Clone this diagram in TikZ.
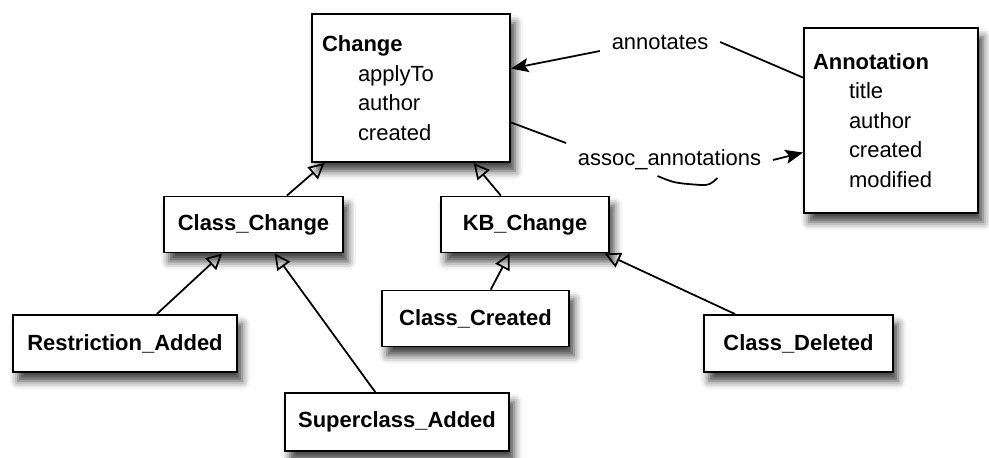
\documentclass[tikz,border=0pt]{standalone}
\usepackage{fontspec}
\setmainfont{Liberation Sans}
\usetikzlibrary{arrows.meta,shadows.blur}
\newcommand{\umlattr}[1]{\hspace*{0.72cm}#1}
\tikzset{
  umlnode/.style = {draw=black, fill=white, line width=1.1pt, inner sep=0pt,
    font=\fontsize{12.5}{16.8}\selectfont,
    blur shadow={shadow xshift=0.1cm, shadow yshift=-0.18cm,
      shadow blur radius=0.16cm, shadow opacity=75}},
  uml_c/.style = {umlnode, font=\fontsize{12.5}{16.8}\selectfont\bfseries,
    minimum height=1.12cm, align=center},% classe simple
  uml_a/.style = {umlnode, align=left, inner xsep=0.2cm},% classe avec attributs
  assoc_l/.style = {font=\fontsize{12.5}{16.8}\selectfont,
    inner xsep=0.22cm, inner ysep=0pt},% etiquette d'association
  isa/.style = {-{Triangle[open, length=9pt, width=9pt]}}% heritage
}
\begin{document}
\begin{tikzpicture}[>={Stealth[length=10pt, width=8pt, inset=2pt]}, line width=1pt]
\useasboundingbox (0,0) rectangle (19.78,-9.14);
\node[uml_a, minimum width=3.96cm, minimum height=2.96cm, text width=3.56cm]
  (change) at (8.22,-1.76)
  {\textbf{Change}\\ \umlattr{applyTo}\\ \umlattr{author}\\ \umlattr{created}};
\node[uml_a, inner xsep=0.18cm, minimum width=3.48cm, minimum height=3.70cm,
  text width=3.12cm] (annot) at (17.82,-2.41)
  {\textbf{Annotation}\\ \umlattr{title}\\ \umlattr{author}\\ \umlattr{created}\\ \umlattr{modified}};
\node[uml_c, minimum width=3.58cm] (classch) at (5.07,-4.49) {Class\_Change};
\node[uml_c, minimum width=3.36cm] (kbch) at (10.50,-4.49) {KB\_Change};
\node[uml_c, minimum width=3.74cm] (created) at (9.51,-6.37) {Class\_Created};
\node[uml_c, minimum width=4.48cm, minimum height=1.14cm] (restr) at (2.50,-6.87) {Restriction\_Added};
\node[uml_c, minimum width=4.48cm, minimum height=1.16cm] (supcl) at (7.94,-8.44) {Superclass\_Added};
\node[uml_c, minimum width=3.78cm, minimum height=1.14cm] (deleted) at (15.97,-6.87) {Class\_Deleted};
\node[assoc_l] (lblA) at (13.20,-0.84) {annotates};
\node[assoc_l] (lblB) at (13.39,-3.20) {assoc\_annotations};
% heritage
\draw[isa] (classch) -- (change);
\draw[isa] (kbch) -- (change);
\draw[isa] (restr) -- (classch);
\draw[isa] (supcl) -- (classch);
\draw[isa] (created) -- (kbch);
\draw[isa] (deleted) -- (kbch.-20);
% associations
\draw (annot.154) -- (lblA.east);
\draw[->] ([yshift=-0.18cm]lblA.west) -- (change.11);
\draw (change.-19.5) -- ([yshift=0.34cm]lblB.west);
\draw[->] (lblB.east) -- (annot.200.5);
\draw[shift={(lblB.center)}] (-0.24,-0.32) .. controls (0.1,-0.46) .. (0.62,-0.5)
  .. controls (0.8,-0.5) .. (0.96,-0.36);
\end{tikzpicture}
\end{document}
